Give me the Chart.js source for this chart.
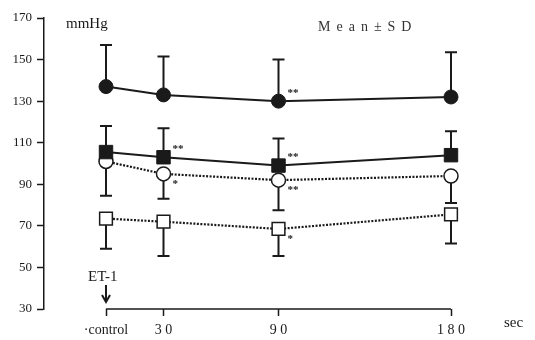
<!DOCTYPE html>
<html>
<head>
<meta charset="utf-8">
<script src="https://cdn.jsdelivr.net/npm/chart.js@4.4.0/dist/chart.umd.min.js"></script>
<style>
  body { margin: 0; background: #fff; }
  #wrap { width: 535px; height: 340px; position: relative; }
</style>
</head>
<body>
<div id="wrap"><canvas id="bpChart"></canvas></div>
<script>
// time points (sec) and their axis labels
const times = [0, 30, 90, 180];
const timeLabels = ['·control', '3 0', '9 0', '1 8 0'];
const yTicks = [30, 50, 70, 90, 110, 130, 150, 170];

// series means and SD (mmHg)
const filledCircle = [137, 133, 130, 132];
const filledCircleSD = [20, 18.5, 20, 21.5];
const filledSquare = [105.5, 103, 99, 104];
const filledSquareSD = [12.5, 14, 13, 11.5];
const openCircle = [101, 95, 92, 94];
const openCircleSD = [16.5, 12, 14.5, 13];
const openSquare = [73.5, 72, 68.5, 75.5];
const openSquareSD = [14.5, 16.5, 13, 14];

// significance marks: dataset index, point index, text
const marks = [
  [1, 1, '**', 'up'], [2, 1, '*', 'down'],
  [0, 2, '**', 'up'], [1, 2, '**', 'up'], [2, 2, '**', 'down'], [3, 2, '*', 'down']
];

const ink = '#1a1a1a';
const serif = '"Liberation Serif", "DejaVu Serif", serif';

function pts(arr) {
  return arr.map((v, i) => ({ x: times[i], y: v }));
}

// draws SD whiskers (one-sided) under the markers
const errorBars = {
  id: 'errorBars',
  beforeDatasetsDraw(chart) {
    const ctx = chart.ctx, ys = chart.scales.y;
    ctx.save();
    ctx.strokeStyle = ink;
    ctx.lineWidth = 2;
    chart.data.datasets.forEach((ds, di) => {
      const meta = chart.getDatasetMeta(di);
      meta.data.forEach((p, i) => {
        const end = ys.getPixelForValue(ds.data[i].y + ds.dir * ds.sd[i]);
        ctx.beginPath();
        ctx.moveTo(p.x, p.y);
        ctx.lineTo(p.x, end);
        ctx.moveTo(p.x - 6, end);
        ctx.lineTo(p.x + 6, end);
        ctx.stroke();
      });
    });
    ctx.restore();
  }
};

// axis line, texts and asterisks
const extras = {
  id: 'extras',
  afterDraw(chart) {
    const ctx = chart.ctx, xs = chart.scales.x;
    const area = chart.chartArea;
    ctx.save();
    ctx.strokeStyle = ink;
    ctx.lineWidth = 1.5;
    ctx.beginPath();
    ctx.moveTo(xs.getPixelForValue(times[0]), area.bottom);
    ctx.lineTo(xs.getPixelForValue(times[times.length - 1]), area.bottom);
    ctx.stroke();

    ctx.fillStyle = ink;
    ctx.textBaseline = 'middle';
    ctx.font = '15px ' + serif;
    ctx.fillText('mmHg', 66, 24);
    ctx.font = '14px ' + serif;
    ctx.letterSpacing = '6px';
    ctx.fillStyle = '#333';
    ctx.fillText('Mean±SD', 318, 27);
    ctx.letterSpacing = '0px';
    ctx.fillStyle = ink;
    ctx.font = '15px ' + serif;
    ctx.fillText('sec', 504, 323);
    ctx.fillText('ET-1', 88, 277);

    // arrow at control
    const ax = xs.getPixelForValue(times[0]);
    ctx.lineWidth = 2;
    ctx.beginPath();
    ctx.moveTo(ax, 285);
    ctx.lineTo(ax, 302);
    ctx.moveTo(ax - 4, 295);
    ctx.lineTo(ax, 302);
    ctx.lineTo(ax + 4, 295);
    ctx.stroke();

    ctx.font = 'bold 11px ' + serif;
    marks.forEach(([di, i, txt, side]) => {
      const p = chart.getDatasetMeta(di).data[i];
      ctx.fillText(txt, p.x + 9, p.y + (side === 'up' ? -8 : 10));
    });
    ctx.restore();
  }
};

const ctx = document.getElementById('bpChart').getContext('2d');
new Chart(ctx, {
  type: 'line',
  data: {
    datasets: [
      { data: pts(filledCircle), sd: filledCircleSD, dir: 1,
        borderColor: ink, borderWidth: 2, backgroundColor: ink,
        pointStyle: 'circle', pointRadius: 7, pointBorderWidth: 1 },
      { data: pts(filledSquare), sd: filledSquareSD, dir: 1,
        borderColor: ink, borderWidth: 2, backgroundColor: ink,
        pointStyle: 'rect', pointRadius: 9.5, pointBorderWidth: 1 },
      { data: pts(openCircle), sd: openCircleSD, dir: -1,
        borderColor: ink, borderWidth: 2.2, borderDash: [2, 1.5], backgroundColor: '#fff',
        pointStyle: 'circle', pointRadius: 7, pointBorderWidth: 1.5 },
      { data: pts(openSquare), sd: openSquareSD, dir: -1,
        borderColor: ink, borderWidth: 2.2, borderDash: [2, 1.5], backgroundColor: '#fff',
        pointStyle: 'rect', pointRadius: 9, pointBorderWidth: 1.5 }
    ]
  },
  options: {
    responsive: true,
    maintainAspectRatio: false,
    animation: false,
    clip: false,
    layout: { padding: { top: 18, right: 84, bottom: 0, left: 0 } },
    plugins: { legend: { display: false }, tooltip: { enabled: false } },
    scales: {
      x: {
        type: 'linear',
        min: -32.35,
        max: 180,
        afterBuildTicks(scale) { scale.ticks = times.map(v => ({ value: v })); },
        afterFit(scale) { scale.height = 31; },
        border: { display: false },
        grid: { drawOnChartArea: false, tickLength: 7, tickColor: ink, tickWidth: 1.5 },
        ticks: {
          color: ink,
          padding: 6,
          font: { family: serif, size: 14 },
          callback: (v) => timeLabels[times.indexOf(v)]
        }
      },
      y: {
        min: 30,
        max: 170,
        afterBuildTicks(scale) { scale.ticks = yTicks.map(v => ({ value: v })); },
        afterFit(scale) { scale.width = 44; },
        border: { display: true, color: ink, width: 1.5 },
        grid: { drawOnChartArea: false, tickLength: 7, tickColor: ink, tickWidth: 1.5 },
        ticks: {
          color: ink,
          padding: 5,
          font: { family: serif, size: 13 }
        }
      }
    }
  },
  plugins: [errorBars, extras]
});
</script>
</body>
</html>
